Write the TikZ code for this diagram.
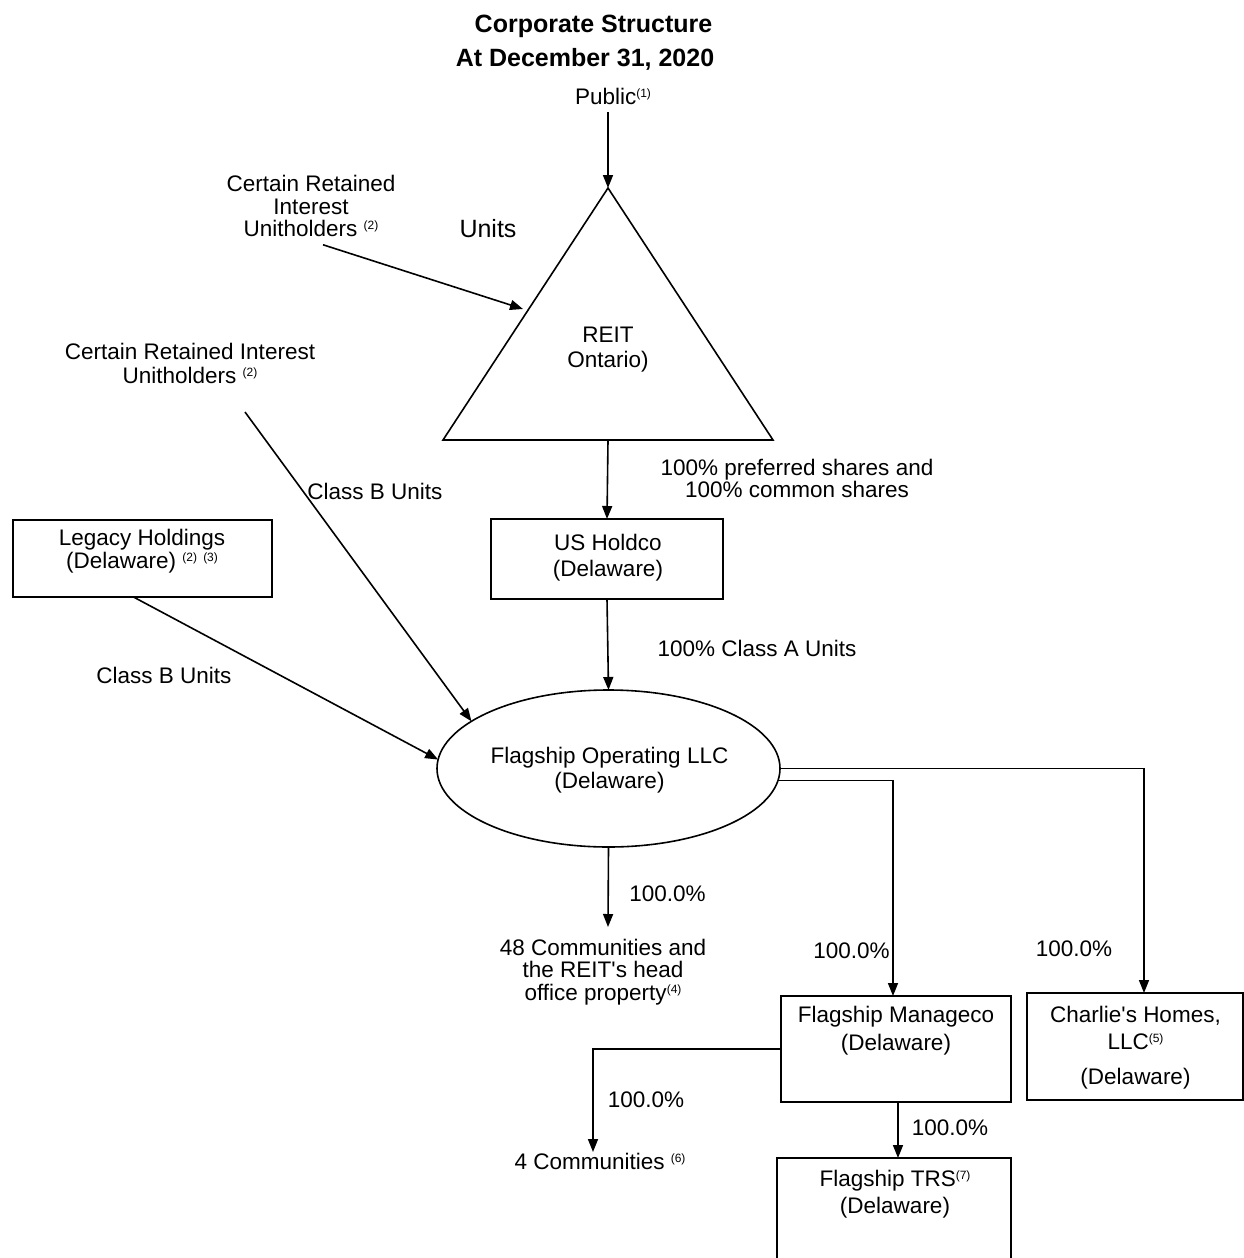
\documentclass[tikz,border=0pt]{standalone}
\usepackage{fontspec}
\setmainfont{Liberation Sans}
\usetikzlibrary{arrows.meta,shapes.geometric}
\newcommand\fnote[1]{\raisebox{7pt}{\fontsize{12}{12}\selectfont(#1)}}
\newcommand\apos{\textquotesingle}
\begin{document}
\begin{tikzpicture}[x=1pt,y=-1pt,
  every node/.style={inner sep=0pt, outer sep=0pt, align=center},
  txt/.style={font=\fontsize{22.5}{23}\selectfont},
  ttl/.style={font=\fontsize{25}{34}\selectfont\bfseries},
  box/.style={draw, line width=1.6pt, rectangle},
  ln/.style={line width=1.6pt, line join=miter},
  arr/.style={line width=1.6pt, -{Triangle[length=13pt,width=10pt]}}
]
\useasboundingbox (0,0) rectangle (1244,1258);
\fill[white] (0,0) rectangle (1244,1258);
\clip (0,0) rectangle (1244,1258);

% title
\node[ttl] (title) at (585,43) {\hspace*{17pt}Corporate Structure\\At December 31, 2020};
\node[txt] (public) at (613,96) {Public\fnote{1}};

% triangle REIT
\draw[ln] (608,188) coordinate (apex) -- (443,440) coordinate (bl) -- (773,440) coordinate (br) -- cycle;
\coordinate (base) at (608,440);
\coordinate (tl) at (523,309);
\node[txt, font=\fontsize{22.5}{25}\selectfont] (reit) at (608,350) {REIT\\Ontario)};
\node[txt, font=\fontsize{25}{25}\selectfont] (units) at (488,229) {Units};
\draw[arr] ([yshift=-8pt]public.south -| apex) -- (apex);

% certain retained interest 1
\node[txt, font=\fontsize{22.5}{22.5}\selectfont] (cri1) at (311,206) {Certain Retained\\Interest\\Unitholders \fnote{2}};
\draw[arr] ([xshift=12pt,yshift=-8pt]cri1.south) -- (tl);

% certain retained interest 2
\node[txt, font=\fontsize{22.5}{24}\selectfont] (cri2) at (190,363) {Certain Retained Interest\\Unitholders \fnote{2}};
\coordinate (c2s) at (245,412);
\node[txt] (clb1) at (375,491) {Class B Units};

% US Holdco
\node[box, minimum width=232pt, minimum height=80pt] (ush) at (607,559) {};
\node[txt, font=\fontsize{22.5}{26}\selectfont] (usht) at (608,558) {US Holdco\\(Delaware)};
\node[txt, font=\fontsize{22.5}{22}\selectfont] (pref) at (797,478) {100\% preferred shares and\\100\% common shares};
\draw[arr] (apex |- base) -- (ush.north);

% Legacy
\node[box, minimum width=259pt, minimum height=77pt] (leg) at (142.5,558.5) {};
\node[txt, font=\fontsize{22.5}{23}\selectfont] (legt) at (142,551) {Legacy Holdings\\(Delaware) \fnote{2} \fnote{3}};
\node[txt] (clb2) at (164,675) {Class B Units};

% Flagship Operating
\node[draw, ellipse, line width=1.6pt, minimum width=343pt, minimum height=157pt] (flag) at (608.5,768.5) {};
\node[txt, font=\fontsize{22.5}{25}\selectfont] (flagt) at (609.5,770) {Flagship Operating LLC\\(Delaware)};
\draw[arr] (ush.south) -- (flag.north);
\node[txt] (clA) at (757,648) {100\% Class A Units};
\draw[arr] (c2s) -- (flag.161);
\draw[arr] ([xshift=-9pt]leg.south) -- (flag.177);

% 48 communities
\coordinate (c48) at (608,927);
\draw[arr] (flag.south) -- (c48);
\node[txt] (pa) at (667.5,894) {100.0\%};
\node[txt, font=\fontsize{22.5}{22.5}\selectfont] (comm48) at (603,972) {48 Communities and\\the REIT\apos s head\\office property\fnote{4}};

% Manageco
\node[box, minimum width=230pt, minimum height=106pt] (mgr) at (896,1049) {};
\node[txt, font=\fontsize{22.5}{28}\selectfont] (mgrt) at (896,1031) {Flagship Manageco\\(Delaware)};
\draw[arr] (flag.-4) -| ([xshift=-3pt]mgr.north);
\node[txt] (pb) at (851.5,951) {100.0\%};

% Charlie's
\node[box, minimum width=216pt, minimum height=107pt] (chh) at (1135,1046.5) {};
\node[txt, font=\fontsize{22.5}{27}\selectfont] (chht) at (1135.5,1048) {Charlie\apos s Homes,\\LLC\fnote{5}\\[8pt](Delaware)};
\draw[arr] (flag.east) -| ([xshift=9pt]chh.north);
\node[txt] (pc) at (1074,949) {100.0\%};

% 4 communities
\coordinate (c4) at (593,1152);
\draw[arr] (mgr.west) -| (c4);
\node[txt] (pd) at (646,1100) {100.0\%};
\node[txt] (comm4) at (600,1161) {4 Communities \fnote{6}};

% TRS
\node[box, minimum width=234pt, minimum height=112pt] (trs) at (894,1214) {};
\node[txt, font=\fontsize{22.5}{27}\selectfont] (trst) at (895,1194) {Flagship TRS\fnote{7}\\(Delaware)};
\draw[arr] ([xshift=2pt]mgr.south) -- ([xshift=2pt]mgr.south |- trs.north);
\node[txt] (pe) at (950,1128) {100.0\%};
\end{tikzpicture}
\end{document}
